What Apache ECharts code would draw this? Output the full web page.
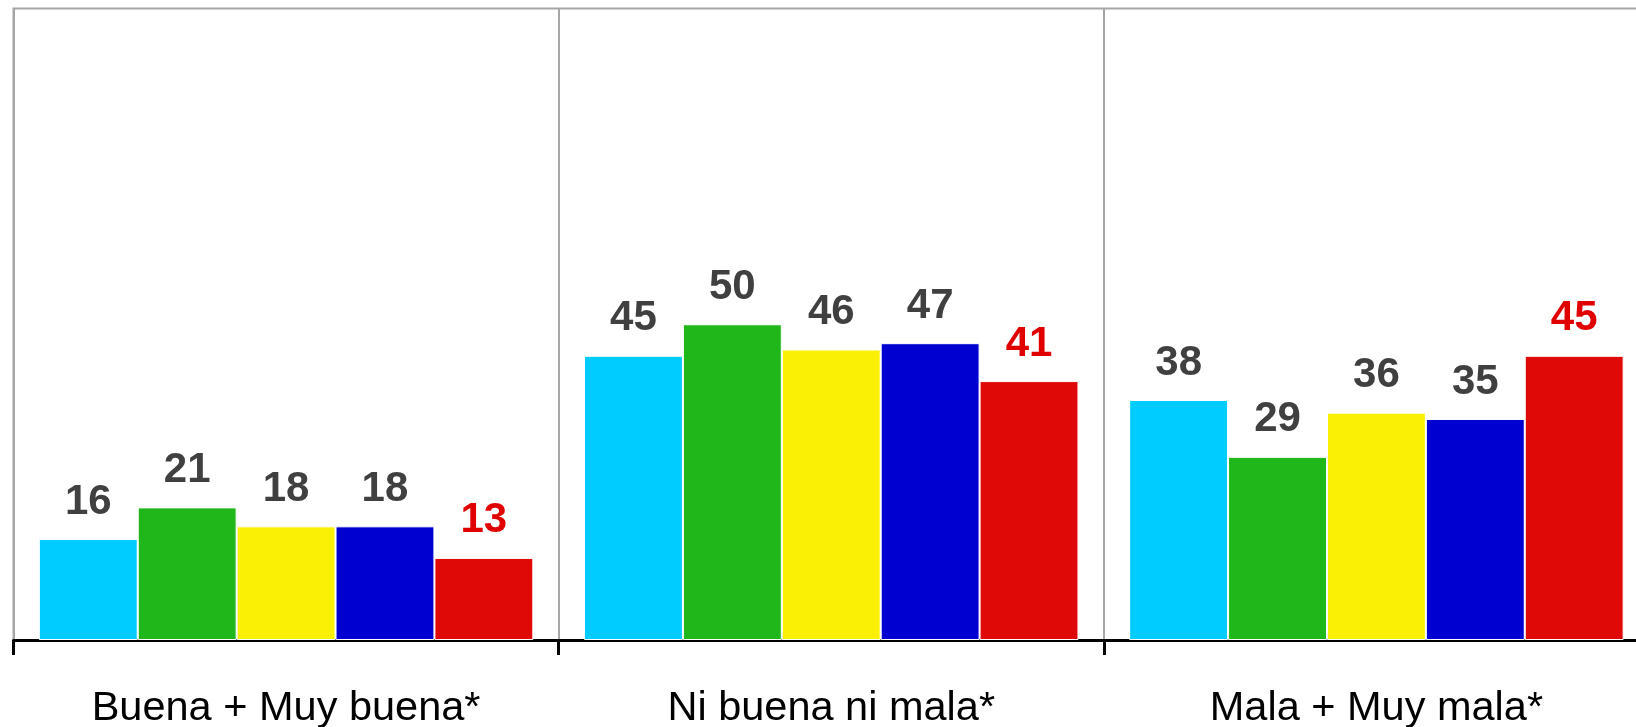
<!DOCTYPE html>
<html>
<head>
<meta charset="utf-8">
<script src="https://cdn.jsdelivr.net/npm/echarts@6/dist/echarts.min.js"></script>
<style>
  html, body { margin: 0; padding: 0; background: #fff; overflow: hidden; }
  #wrap { width: 1636px; height: 727px; overflow: hidden; position: relative; }
  #chart { width: 1650px; height: 727px; position: absolute; left: 0; top: 0; }
</style>
</head>
<body>
<div id="wrap"><div id="chart"></div></div>
<script>
const categories = ['Buena + Muy buena*', 'Ni buena ni mala*', 'Mala + Muy mala*'];
const seriesNames = ['Serie 1', 'Serie 2', 'Serie 3', 'Serie 4', 'Serie 5'];
const seriesColors = ['#00CCFF', '#1FB71A', '#FAF005', '#0000D0', '#DF0A07'];
const labelColors = ['#404040', '#404040', '#404040', '#404040', '#E00000'];
const serie1 = [16, 45, 38];
const serie2 = [21, 50, 29];
const serie3 = [18, 46, 36];
const serie4 = [18, 47, 35];
const serie5 = [13, 41, 45];
const seriesValues = [serie1, serie2, serie3, serie4, serie5];

const chart = echarts.init(document.getElementById('chart'));
const font = "'Liberation Sans', Arial, sans-serif";

// the plot runs a little past the right edge of the window, as in the original
chart.setOption({
  animation: false,
  backgroundColor: '#fff',
  grid: {
    left: 13.5,
    top: 8.5,
    right: 1,
    bottom: 87,
    containLabel: false,
    outerBoundsMode: 'none',
    show: true,
    borderColor: '#A6A6A6',
    borderWidth: 2
  },
  xAxis: {
    type: 'category',
    data: categories,
    axisLine: { lineStyle: { color: '#000', width: 3 } },
    axisTick: { show: true, length: 15, lineStyle: { color: '#000', width: 3 } },
    splitLine: { show: true, interval: 0, lineStyle: { color: '#A6A6A6', width: 2 } },
    axisLabel: {
      interval: 0,
      margin: 48,
      color: '#000',
      fontSize: 41.5,
      fontFamily: font
    }
  },
  yAxis: {
    type: 'value',
    min: 0,
    max: 100,
    show: false,
    splitLine: { show: false }
  },
  series: seriesNames.map((name, i) => ({
    name: name,
    type: 'bar',
    data: seriesValues[i],
    barGap: 0,
    barCategoryGap: '9.3%',
    itemStyle: { color: seriesColors[i], borderColor: '#fff', borderWidth: 1 },
    label: {
      show: true,
      position: 'top',
      distance: 16,
      color: labelColors[i],
      fontSize: 42,
      fontWeight: 'bold',
      fontFamily: font
    }
  }))
});
</script>
</body>
</html>
